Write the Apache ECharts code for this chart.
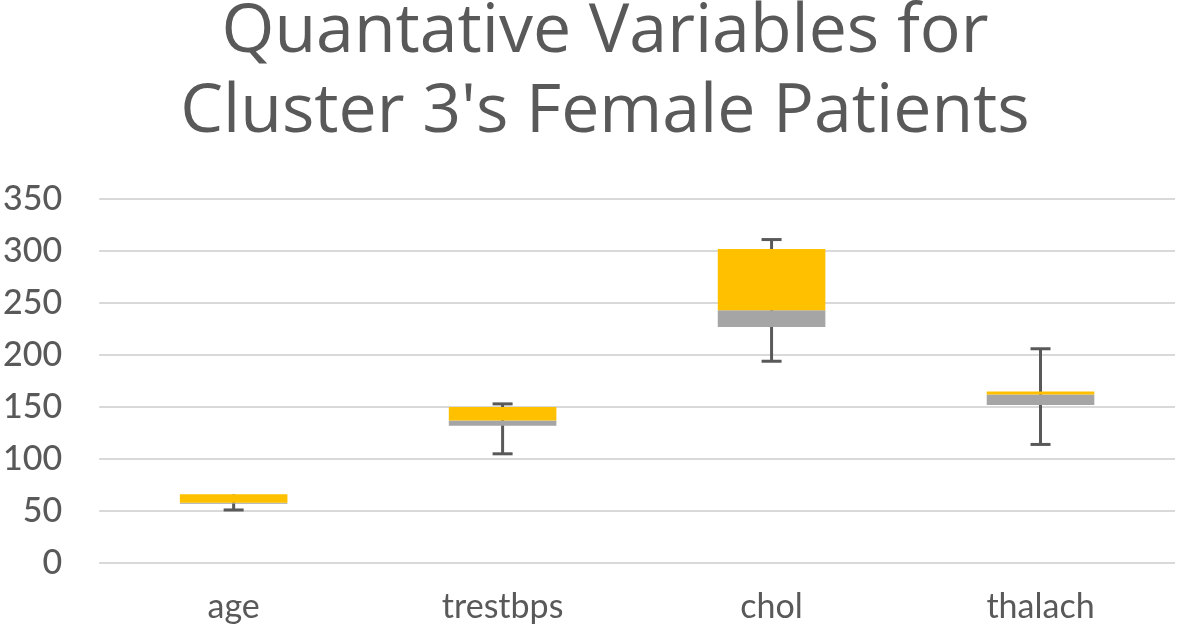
<!DOCTYPE html>
<html><head><meta charset="utf-8">
<script src="https://cdn.jsdelivr.net/npm/echarts@6/dist/echarts.min.js"></script>
<style>html,body{margin:0;padding:0;background:#fff}#c{width:1179px;height:626px}</style>
</head><body><div id="c"></div>
<script>
const categories = ['age', 'trestbps', 'chol', 'thalach'];
const minVals = [51, 105, 194, 114];
const q1Vals = [57, 132, 227, 152];
const medianVals = [58, 137, 243, 162];
const q3Vals = [66, 150, 302, 165];
const maxVals = [66, 153, 311, 206];
const yTicks = [0, 50, 100, 150, 200, 250, 300, 350];

const data = categories.map((c, i) => [i, minVals[i], q1Vals[i], medianVals[i], q3Vals[i], maxVals[i]]);
const chart = echarts.init(document.getElementById('c'));
chart.setOption({
  animation: false,
  title: {
    text: "Quantative Variables for\nCluster 3's Female Patients",
    left: 600, textAlign: 'center', top: -12,
    textStyle: { fontFamily: 'Open Sans', fontWeight: 'normal', fontSize: 68, lineHeight: 80, color: '#595959' }
  },
  grid: { left: 99, right: 4, top: 199, bottom: 63 },
  xAxis: {
    type: 'category', data: categories,
    axisLine: { show: false }, axisTick: { show: false },
    axisLabel: { color: '#595959', fontSize: 34, margin: 27, fontFamily: 'Lato' }
  },
  yAxis: {
    type: 'value', min: yTicks[0], max: yTicks[yTicks.length - 1], interval: 50,
    axisLine: { show: false }, axisTick: { show: false },
    axisLabel: { color: '#595959', fontSize: 34, margin: 37, fontFamily: 'Lato', fontWeight: 500 },
    splitLine: { lineStyle: { color: '#D9D9D9', width: 2 } }
  },
  series: [{
    type: 'custom',
    data: data,
    encode: { x: 0, y: [1, 2, 3, 4, 5] },
    renderItem: function (params, api) {
      const x = api.value(0);
      const pMin = api.coord([x, api.value(1)]);
      const pQ1 = api.coord([x, api.value(2)]);
      const pMed = api.coord([x, api.value(3)]);
      const pQ3 = api.coord([x, api.value(4)]);
      const pMax = api.coord([x, api.value(5)]);
      const bw = api.size([1, 0])[0] * 0.4;
      const cap = 20;
      const cx = pMin[0];
      const ls = { stroke: '#595959', lineWidth: 3 };
      const children = [
        { type: 'line', shape: { x1: cx, y1: pMin[1], x2: cx, y2: pMax[1] }, style: ls },
        { type: 'line', shape: { x1: cx - cap / 2, y1: pMin[1], x2: cx + cap / 2, y2: pMin[1] }, style: ls }
      ];
      if (api.value(5) > api.value(4)) {
        children.push({ type: 'line', shape: { x1: cx - cap / 2, y1: pMax[1], x2: cx + cap / 2, y2: pMax[1] }, style: ls });
      }
      children.push(
        { type: 'rect', shape: { x: cx - bw / 2, y: pMed[1], width: bw, height: pQ1[1] - pMed[1] }, style: { fill: '#A5A5A5' } },
        { type: 'rect', shape: { x: cx - bw / 2, y: pQ3[1], width: bw, height: pMed[1] - pQ3[1] }, style: { fill: '#FFC000' } }
      );
      return { type: 'group', children: children };
    }
  }]
});
</script></body></html>
